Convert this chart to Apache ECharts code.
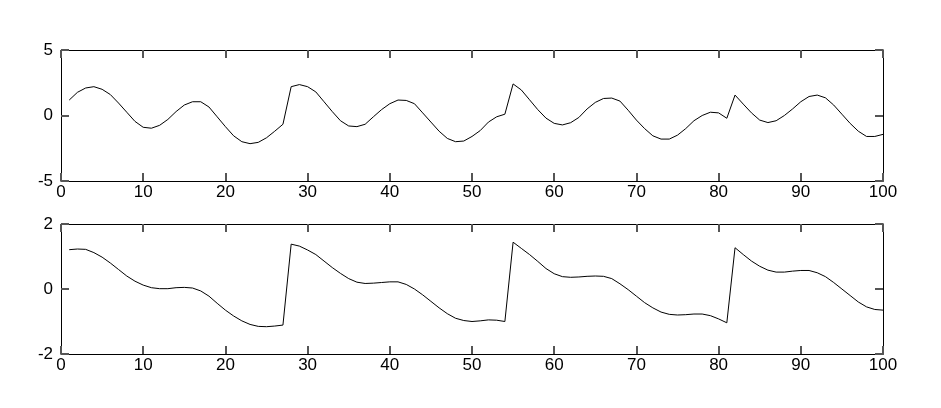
<!DOCTYPE html>
<html>
<head>
<meta charset="utf-8">
<script src="https://cdn.jsdelivr.net/npm/echarts@6/dist/echarts.min.js"></script>
<style>
html,body{margin:0;padding:0;background:#fff;}
#chart{width:941px;height:408px;}
</style>
</head>
<body>
<div id="chart"></div>
<script>
// sample index (x)
var xValues = [];
for (var i = 1; i <= 100; i++) xValues.push(i);

// top panel series
var topValues = [
  1.18, 1.77, 2.1, 2.2, 2.0, 1.6, 0.95, 0.25, -0.45, -0.9,
  -0.97, -0.75, -0.3, 0.3, 0.8, 1.05, 1.05, 0.65, -0.1, -0.85,
  -1.55, -2.0, -2.15, -2.05, -1.7, -1.2, -0.67, 2.2, 2.36, 2.2,
  1.8, 1.05, 0.3, -0.4, -0.8, -0.85, -0.67, -0.1, 0.45, 0.9,
  1.18, 1.15, 0.9, 0.2, -0.5, -1.2, -1.75, -2.0, -1.95, -1.6,
  -1.15, -0.5, -0.1, 0.1, 2.41, 1.95, 1.2, 0.45, -0.2, -0.6,
  -0.72, -0.55, -0.15, 0.5, 1.0, 1.3, 1.33, 1.1, 0.4, -0.35,
  -1.0, -1.55, -1.8, -1.8, -1.5, -1.0, -0.4, 0.0, 0.25, 0.2,
  -0.21, 1.56, 0.87, 0.2, -0.35, -0.54, -0.4, 0.0, 0.5, 1.05,
  1.45, 1.56, 1.35, 0.8, 0.1, -0.6, -1.2, -1.6, -1.6, -1.44
];

// bottom panel series
var bottomValues = [
  1.21, 1.23, 1.22, 1.12, 0.98, 0.8, 0.6, 0.4, 0.24, 0.12,
  0.04, 0.01, 0.01, 0.04, 0.05, 0.03, -0.06, -0.22, -0.44, -0.65,
  -0.83, -0.98, -1.09, -1.15, -1.16, -1.14, -1.11, 1.38, 1.32, 1.2,
  1.06, 0.86, 0.66, 0.48, 0.32, 0.21, 0.17, 0.18, 0.2, 0.22,
  0.22, 0.14, 0.0, -0.18, -0.38, -0.58, -0.76, -0.9, -0.97, -1.0,
  -0.98, -0.95, -0.96, -1.0, 1.44, 1.25, 1.06, 0.85, 0.63, 0.47,
  0.38, 0.36, 0.37, 0.39, 0.4, 0.39, 0.32, 0.16, -0.02, -0.22,
  -0.42, -0.58, -0.71, -0.78, -0.8, -0.79, -0.77, -0.77, -0.82, -0.92,
  -1.04, 1.27, 1.06, 0.86, 0.7, 0.58, 0.52, 0.52, 0.55, 0.57,
  0.57, 0.5, 0.38, 0.2, 0.0, -0.2, -0.4, -0.55, -0.63, -0.65
];

// tick values
var xTicks = [0, 10, 20, 30, 40, 50, 60, 70, 80, 90, 100];
var topTicks = [-5, 0, 5];
var bottomTicks = [-2, 0, 2];

function pairs(xs, ys) { return xs.map(function (x, i) { return [x, ys[i]]; }); }
var font = 'Liberation Sans, Arial, sans-serif';
function ls() { return { color: '#000', width: 1 }; }

function axis(gridIndex, position, ticks, showLabel, margin) {
  return {
    type: 'value', gridIndex: gridIndex, position: position,
    min: ticks[0], max: ticks[ticks.length - 1], interval: ticks[1] - ticks[0],
    axisLine: { show: true, onZero: false, lineStyle: ls() },
    axisTick: { show: true, inside: true, length: 8, lineStyle: { color: '#555', width: 2 } },
    axisLabel: { show: showLabel, color: '#000', fontSize: 17, fontFamily: font, margin: margin },
    splitLine: { show: false }
  };
}

var chart = echarts.init(document.getElementById('chart'), null, { renderer: 'canvas' });
chart.setOption({
  animation: false,
  backgroundColor: '#fff',
  grid: [
    { left: 61, right: 58, top: 50, height: 131 },
    { left: 61, right: 58, top: 224, height: 130 }
  ],
  xAxis: [
    axis(0, 'bottom', xTicks, true, 3),
    axis(0, 'top', xTicks, false, 3),
    axis(1, 'bottom', xTicks, true, 3),
    axis(1, 'top', xTicks, false, 3)
  ],
  yAxis: [
    axis(0, 'left', topTicks, true, 8),
    axis(0, 'right', topTicks, false, 8),
    axis(1, 'left', bottomTicks, true, 8),
    axis(1, 'right', bottomTicks, false, 8)
  ],
  series: [
    { type: 'line', xAxisIndex: 0, yAxisIndex: 0, data: pairs(xValues, topValues),
      showSymbol: false, symbol: 'none', lineStyle: ls(), silent: true },
    { type: 'line', xAxisIndex: 2, yAxisIndex: 2, data: pairs(xValues, bottomValues),
      showSymbol: false, symbol: 'none', lineStyle: ls(), silent: true }
  ]
});
</script>
</body>
</html>
